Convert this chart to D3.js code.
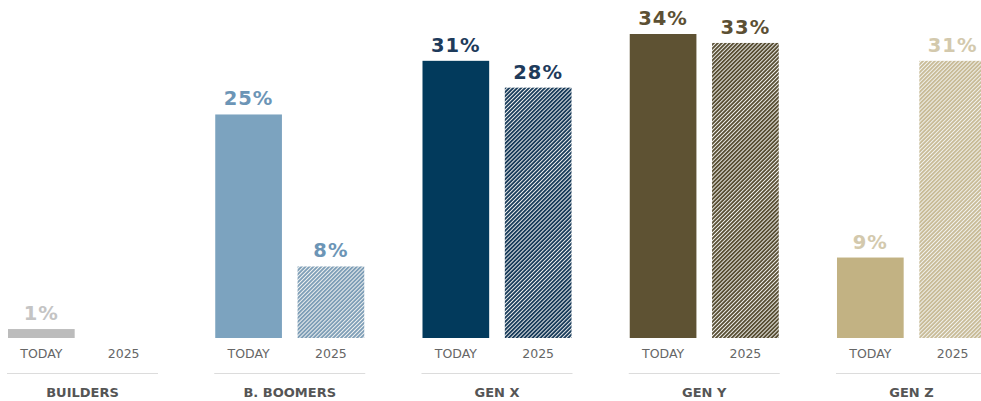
<!DOCTYPE html>
<html lang="en">
    <head>
        <meta charset="utf-8">
        <title>Generations</title>
        <script type="text/javascript" src="https://cdnjs.cloudflare.com/ajax/libs/d3/7.8.5/d3.min.js"></script>
        <style type="text/css">
            body { margin: 0; background: #fff; }
            svg { display: block; }
        </style>
    </head>
    <body>
        <script type="text/javascript">
            var categories = ["BUILDERS", "B. BOOMERS", "GEN X", "GEN Y", "GEN Z"];
            var periods = ["TODAY", "2025"];
            var today = [1, 25, 31, 34, 9];
            var future = [0, 8, 28, 33, 31];
            var barColors = ["#bcbcbc", "#7ca3bf", "#023a5c", "#5e5233", "#c2b283"];
            var hatchColors = ["#bcbcbc", "#7f9fb8", "#1a3d5c", "#5a5035", "#c9bc98"];
            var labelColors = ["#c4c4c4", "#6c95b6", "#1e3b5b", "#5c5034", "#d3c9ad"];

            var w = 981;
            var h = 401;

            var svg = d3.select("body")
                        .append("svg")
                        .attr("width", w)
                        .attr("height", h);

            var x = d3.scaleBand()
                      .domain(categories)
                      .range([8, 986])
                      .paddingInner(0.281);

            var xSub = d3.scaleBand()
                         .domain(periods)
                         .range([0, x.bandwidth()])
                         .paddingInner(0.19);

            var y = d3.scaleLinear()
                      .domain([0, 34])
                      .range([338, 34]);

            // hatch patterns for the 2025 bars
            var defs = svg.append("defs");
            categories.forEach(function (c, i) {
                var p = defs.append("pattern")
                    .attr("id", "hatch" + i)
                    .attr("patternUnits", "userSpaceOnUse")
                    .attr("width", 2.8)
                    .attr("height", 2.8)
                    .attr("patternTransform", "rotate(45)");
                p.append("rect")
                    .attr("width", 2.8).attr("height", 2.8)
                    .attr("fill", "#f4f4f2");
                p.append("rect")
                    .attr("width", 1.9).attr("height", 2.8)
                    .attr("fill", hatchColors[i]);
            });

            var data = [];
            categories.forEach(function (c, i) {
                data.push({cat: c, period: "TODAY", value: today[i], idx: i});
                data.push({cat: c, period: "2025", value: future[i], idx: i});
            });

            var g = svg.selectAll("g.group")
                       .data(data)
                       .enter()
                       .append("g")
                       .attr("transform", function (d) {
                           return "translate(" + (x(d.cat) + xSub(d.period)) + ",0)";
                       });

            g.filter(function (d) { return d.value > 0; })
             .append("rect")
             .attr("x", 0)
             .attr("width", xSub.bandwidth())
             .attr("y", function (d) { return y(d.value); })
             .attr("height", function (d) { return y(0) - y(d.value); })
             .attr("fill", function (d) {
                 return d.period == "TODAY" ? barColors[d.idx] : "url(#hatch" + d.idx + ")";
             });

            g.filter(function (d) { return d.value > 0; })
             .append("text")
             .text(function (d) { return d.value + "%"; })
             .attr("x", xSub.bandwidth() / 2)
             .attr("y", function (d) { return y(d.value) - 9; })
             .attr("text-anchor", "middle")
             .attr("font-family", "DejaVu Sans, sans-serif")
             .attr("font-weight", "bold")
             .attr("font-size", "19.5px")
             .attr("letter-spacing", "1px")
             .attr("fill", function (d) { return labelColors[d.idx]; });

            g.append("text")
             .text(function (d) { return d.period; })
             .attr("x", xSub.bandwidth() / 2)
             .attr("y", 358)
             .attr("text-anchor", "middle")
             .attr("font-family", "DejaVu Sans, sans-serif")
             .attr("font-size", "12.5px")
             .attr("fill", "#666");

            svg.selectAll("line.sep")
               .data(categories)
               .enter()
               .append("line")
               .attr("x1", function (d) { return x(d) - 1; })
               .attr("x2", function (d) { return x(d) + x.bandwidth() + 1; })
               .attr("y1", 373.5)
               .attr("y2", 373.5)
               .attr("stroke", "#dcdcdc")
               .attr("stroke-width", 1);

            svg.selectAll("text.cat")
               .data(categories)
               .enter()
               .append("text")
               .attr("class", "cat")
               .text(function (d) { return d; })
               .attr("x", function (d) { return x(d) + x.bandwidth() / 2; })
               .attr("y", 397)
               .attr("text-anchor", "middle")
               .attr("font-family", "DejaVu Sans, sans-serif")
               .attr("font-weight", "bold")
               .attr("font-size", "13px")
               .attr("fill", "#555");
        </script>
    </body>
</html>
